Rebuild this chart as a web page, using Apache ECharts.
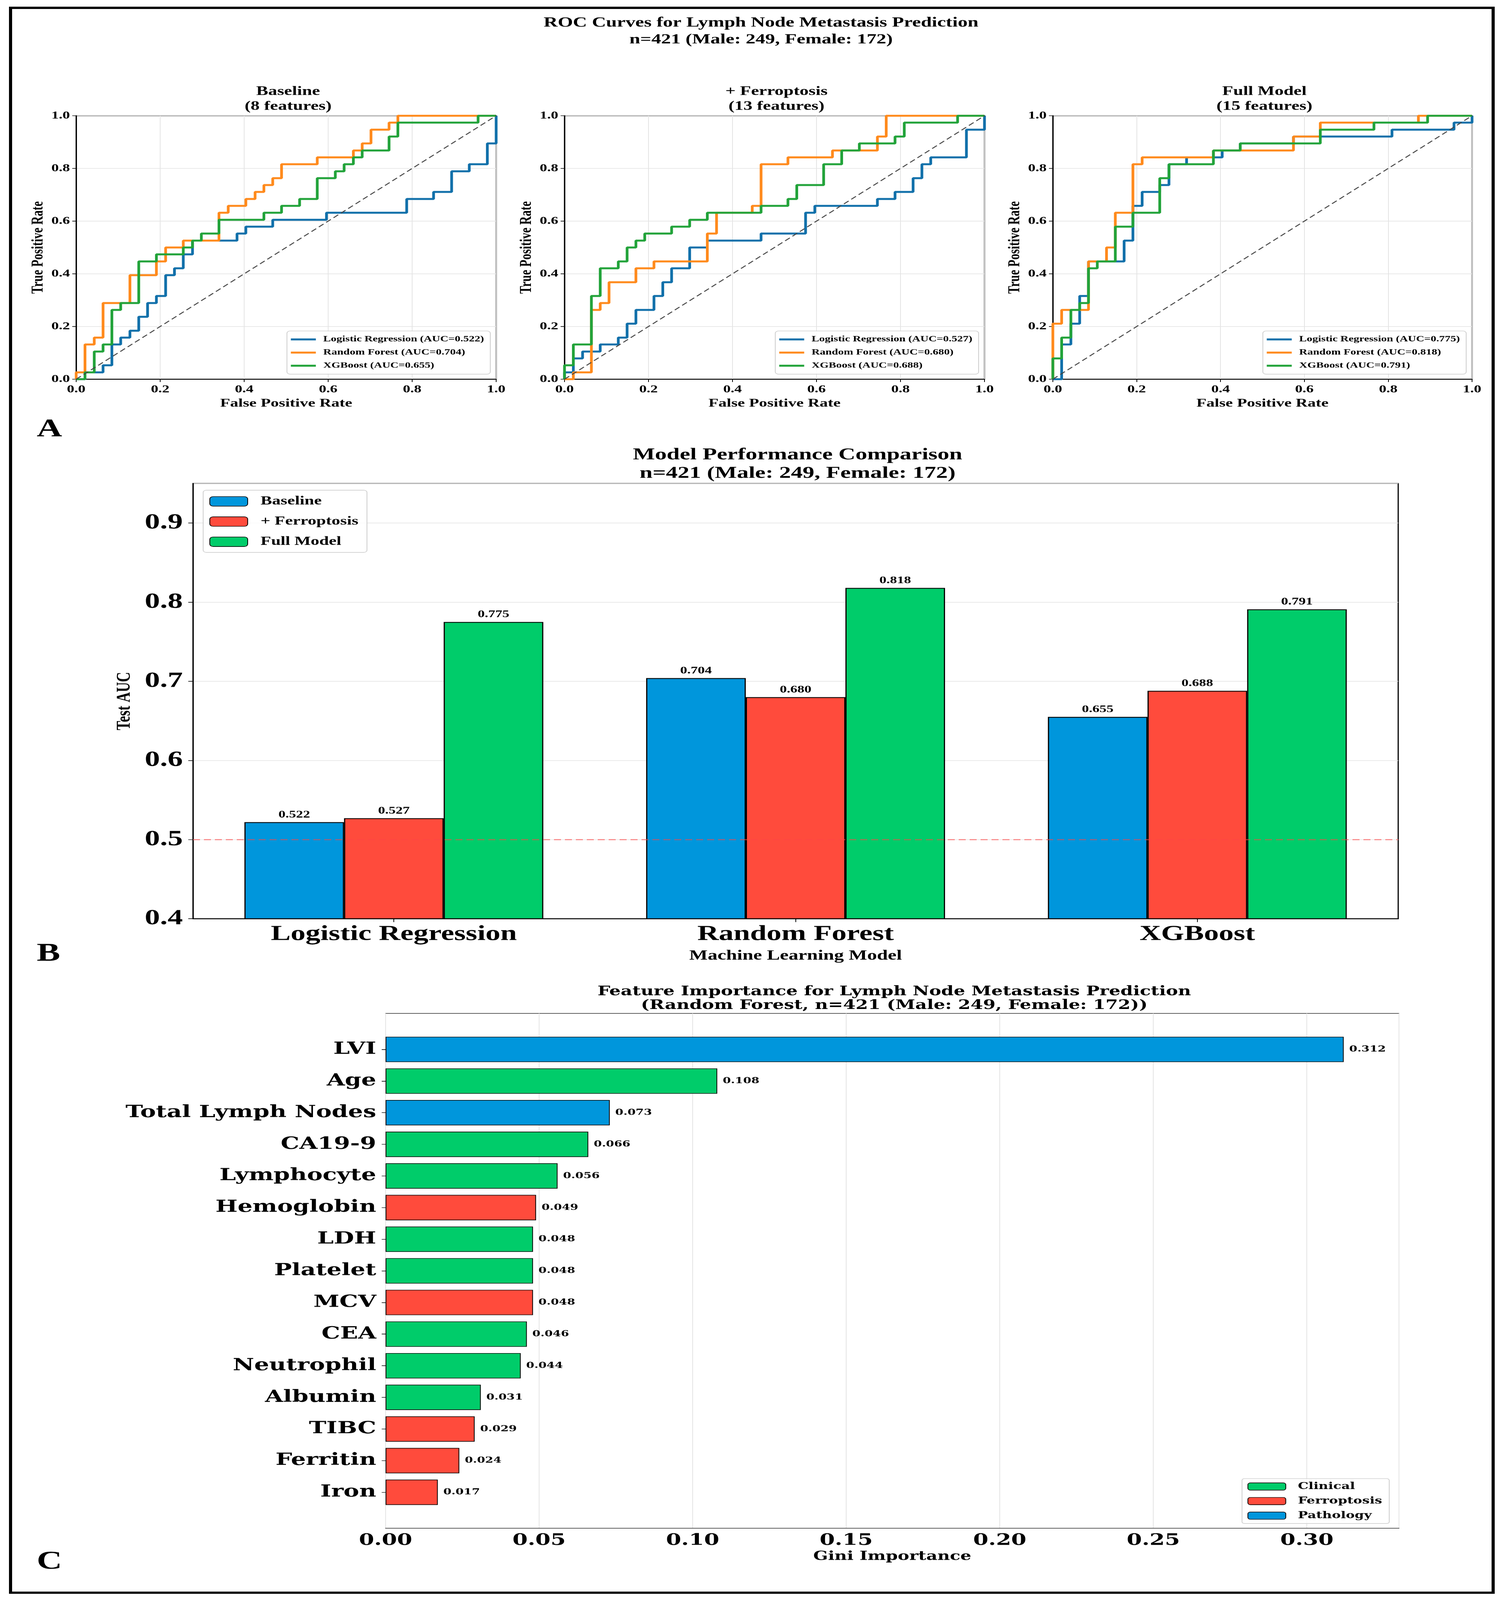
<!DOCTYPE html>
<html>
<head>
<meta charset="utf-8">
<title>Lymph Node Metastasis Prediction</title>
<script src="https://cdn.jsdelivr.net/npm/echarts@6/dist/echarts.min.js"></script>
<style>
html, body { margin: 0; padding: 0; background: #fff; overflow: hidden; }
#main { width: 3837px; height: 5709px; transform-origin: 0 0; }
</style>
</head>
<body>
<div id="main"></div>
<script>
const serif = 'Liberation Serif';
const wideSerif = 'DejaVu Serif';

const modelNames = ['Logistic Regression', 'Random Forest', 'XGBoost'];
const rocPanelTitles = ['Baseline\n(8 features)', '+ Ferroptosis\n(13 features)', 'Full Model\n(15 features)'];

// test AUC per feature set, in model order
const aucBaseline = [0.522, 0.704, 0.655];
const aucFerroptosis = [0.527, 0.680, 0.688];
const aucFull = [0.775, 0.818, 0.791];
const featureSets = ['Baseline', '+ Ferroptosis', 'Full Model'];
const chanceLevel = 0.5;
const chanceLine = [[0, 0], [1, 1]];

// ROC points [fpr, tpr]
const rocBaselineLR = [[0, 0], [0.021, 0.026], [0.064, 0.053], [0.085, 0.132], [0.106, 0.158], [0.128, 0.184], [0.149, 0.237], [0.170, 0.289], [0.191, 0.316], [0.213, 0.395], [0.234, 0.421], [0.255, 0.474], [0.277, 0.526], [0.383, 0.553], [0.404, 0.579], [0.468, 0.605], [0.596, 0.632], [0.787, 0.684], [0.851, 0.711], [0.894, 0.789], [0.936, 0.816], [0.979, 0.895], [1, 1]];
const rocBaselineRF = [[0, 0], [0, 0.026], [0.021, 0.132], [0.043, 0.158], [0.064, 0.289], [0.128, 0.395], [0.191, 0.447], [0.213, 0.5], [0.255, 0.526], [0.340, 0.632], [0.362, 0.658], [0.404, 0.684], [0.426, 0.711], [0.447, 0.737], [0.468, 0.763], [0.489, 0.816], [0.574, 0.842], [0.660, 0.868], [0.681, 0.895], [0.702, 0.947], [0.745, 0.974], [0.766, 1], [1, 1]];
const rocBaselineXGB = [[0, 0], [0.021, 0.026], [0.043, 0.105], [0.064, 0.132], [0.085, 0.263], [0.106, 0.289], [0.149, 0.447], [0.191, 0.474], [0.255, 0.5], [0.277, 0.526], [0.298, 0.553], [0.340, 0.605], [0.447, 0.632], [0.489, 0.658], [0.532, 0.684], [0.574, 0.763], [0.617, 0.789], [0.638, 0.816], [0.660, 0.842], [0.681, 0.868], [0.745, 0.921], [0.766, 0.974], [0.957, 1], [1, 1]];

const rocFerroLR = [[0, 0], [0, 0.026], [0.021, 0.079], [0.043, 0.105], [0.085, 0.132], [0.128, 0.158], [0.149, 0.211], [0.170, 0.263], [0.213, 0.316], [0.234, 0.368], [0.255, 0.421], [0.298, 0.5], [0.340, 0.526], [0.468, 0.553], [0.574, 0.632], [0.596, 0.658], [0.745, 0.684], [0.787, 0.711], [0.830, 0.763], [0.851, 0.816], [0.872, 0.842], [0.957, 0.947], [1, 1]];
const rocFerroRF = [[0, 0], [0.021, 0.026], [0.064, 0.263], [0.085, 0.289], [0.106, 0.368], [0.170, 0.421], [0.213, 0.447], [0.340, 0.553], [0.362, 0.632], [0.447, 0.658], [0.468, 0.816], [0.532, 0.842], [0.638, 0.868], [0.745, 0.921], [0.766, 1], [1, 1]];
const rocFerroXGB = [[0, 0], [0, 0.053], [0.021, 0.132], [0.064, 0.316], [0.085, 0.421], [0.128, 0.447], [0.149, 0.5], [0.170, 0.526], [0.191, 0.553], [0.255, 0.579], [0.298, 0.605], [0.340, 0.632], [0.468, 0.658], [0.532, 0.684], [0.553, 0.737], [0.617, 0.816], [0.660, 0.868], [0.702, 0.895], [0.787, 0.921], [0.809, 0.974], [0.936, 1], [1, 1]];

const rocFullLR = [[0, 0], [0.021, 0.132], [0.043, 0.211], [0.064, 0.316], [0.085, 0.447], [0.170, 0.526], [0.191, 0.658], [0.213, 0.711], [0.255, 0.737], [0.277, 0.816], [0.319, 0.842], [0.404, 0.868], [0.447, 0.895], [0.574, 0.921], [0.809, 0.947], [0.957, 0.974], [1, 1]];
const rocFullRF = [[0, 0], [0, 0.211], [0.021, 0.263], [0.085, 0.447], [0.128, 0.5], [0.149, 0.632], [0.191, 0.816], [0.213, 0.842], [0.383, 0.868], [0.574, 0.921], [0.638, 0.974], [0.872, 1], [1, 1]];
const rocFullXGB = [[0, 0], [0, 0.079], [0.021, 0.158], [0.043, 0.263], [0.064, 0.289], [0.085, 0.421], [0.106, 0.447], [0.149, 0.579], [0.191, 0.632], [0.255, 0.763], [0.277, 0.816], [0.383, 0.868], [0.447, 0.895], [0.638, 0.947], [0.766, 0.974], [0.894, 1], [1, 1]];

// Random forest feature importance
const featureNames = ['LVI', 'Age', 'Total Lymph Nodes', 'CA19-9', 'Lymphocyte', 'Hemoglobin', 'LDH', 'Platelet', 'MCV', 'CEA', 'Neutrophil', 'Albumin', 'TIBC', 'Ferritin', 'Iron'];
const featureImportance = [0.312, 0.108, 0.073, 0.066, 0.056, 0.049, 0.048, 0.048, 0.048, 0.046, 0.044, 0.031, 0.029, 0.024, 0.017];
const featureGroup = ['Pathology', 'Clinical', 'Pathology', 'Clinical', 'Clinical', 'Ferroptosis', 'Clinical', 'Clinical', 'Ferroptosis', 'Clinical', 'Clinical', 'Clinical', 'Ferroptosis', 'Ferroptosis', 'Ferroptosis'];
const groupNames = ['Clinical', 'Ferroptosis', 'Pathology'];

const rocColors = ['#1170aa', '#ff8a1c', '#22a33a'];
const setColors = ['#0096dc', '#ff4b3c', '#00cc6a'];
const groupColors = { Clinical: '#00cc6a', Ferroptosis: '#ff4b3c', Pathology: '#0096dc' };

const W = 3837, H = 5709;
const rocGrids = [
	{ left: 195, top: 413, width: 1075, height: 940 },
	{ left: 1445, top: 413, width: 1075, height: 940 },
	{ left: 2695, top: 413, width: 1073, height: 940 },
];
const barGrid = { left: 494, top: 1725, width: 3085, height: 1553 };
const impFrame = { left: 987, top: 3616, width: 2594, height: 1837 };
const impBars = { left: 987, top: 3688, width: 2594, height: 1693 };

const rocCurves = [
	[rocBaselineLR, rocBaselineRF, rocBaselineXGB],
	[rocFerroLR, rocFerroRF, rocFerroXGB],
	[rocFullLR, rocFullRF, rocFullXGB],
];
const aucByPanel = [aucBaseline, aucFerroptosis, aucFull];

function rocName(p, m) {
	return modelNames[m] + ' (AUC=' + aucByPanel[p][m].toFixed(3) + ')';
}

function txt(size, family) {
	return { fontFamily: family || serif, fontWeight: 'bold', fontSize: size, color: '#000' };
}

const gridLine = { show: true, lineStyle: { color: '#e4e4e4', width: 2 } };

// the window can come out shorter than the figure; squeeze it to fit
const el = document.getElementById('main');
const fit = Math.min(1, window.innerHeight / H);
if (fit < 1) el.style.transform = 'scaleY(' + fit + ')';

const chart = echarts.init(el, null, { renderer: 'canvas' });

const grids = [];
const xAxes = [];
const yAxes = [];
const legends = [];
const series = [];
const titles = [];

titles.push({
	text: 'ROC Curves for Lymph Node Metastasis Prediction\nn=421 (Male: 249, Female: 172)',
	left: 1943, top: 47, textAlign: 'center',
	textStyle: Object.assign(txt(50), { lineHeight: 60 }),
});

// panel A: three ROC plots
rocGrids.forEach((g, p) => {
	grids.push(Object.assign({ show: true, borderColor: '#000', borderWidth: 3, outerBoundsMode: 'none' }, g));
	titles.push({
		text: rocPanelTitles[p],
		left: g.left + g.width / 2, top: 296, textAlign: 'center',
		textStyle: Object.assign(txt(46), { lineHeight: 53 }),
	});
	const axisBase = {
		type: 'value', gridIndex: p, min: 0, max: 1, interval: 0.2,
		nameLocation: 'middle', nameTextStyle: txt(42),
		axisLine: { show: true, lineStyle: { color: '#000', width: 3 } },
		axisTick: { show: true, length: 10, lineStyle: { color: '#000', width: 2 } },
		splitLine: gridLine,
	};
	xAxes.push(Object.assign({}, axisBase, {
		name: 'False Positive Rate', nameGap: 66,
		axisLabel: Object.assign(txt(38), { margin: 18, formatter: (v) => v.toFixed(1) }),
	}));
	yAxes.push(Object.assign({}, axisBase, {
		name: 'True Positive Rate', nameGap: 76,
		axisLabel: Object.assign(txt(38), { margin: 16, formatter: (v) => v.toFixed(1) }),
	}));
	rocCurves[p].forEach((curve, m) => {
		series.push({
			name: rocName(p, m), type: 'line', step: 'end',
			xAxisIndex: p, yAxisIndex: p, data: curve,
			showSymbol: false, symbol: 'none', silent: true,
			lineStyle: { color: rocColors[m], width: 7 },
			itemStyle: { color: rocColors[m] },
			z: 3 + m,
		});
	});
	series.push({
		type: 'line', xAxisIndex: p, yAxisIndex: p, data: chanceLine,
		showSymbol: false, symbol: 'none', silent: true,
		lineStyle: { color: '#444', width: 3, type: [16, 9] }, z: 8,
	});
	legends.push({
		data: modelNames.map((n, m) => rocName(p, m)),
		orient: 'vertical',
		right: W - (g.left + g.width) + 15,
		bottom: H - (g.top + g.height) + 18,
		icon: 'rect', itemWidth: 64, itemHeight: 7, itemGap: 15,
		padding: [14, 16, 14, 10],
		backgroundColor: 'rgba(255,255,255,0.85)',
		borderColor: '#cccccc', borderWidth: 2, borderRadius: 8,
		selectedMode: false,
		textStyle: Object.assign(txt(29), { lineHeight: 32, padding: [0, 0, 0, 14] }),
	});
});

// panel B: grouped AUC bars
titles.push({
	text: 'Model Performance Comparison\nn=421 (Male: 249, Female: 172)',
	left: barGrid.left + barGrid.width / 2, top: 1585, textAlign: 'center',
	textStyle: Object.assign(txt(60), { lineHeight: 66 }),
});
grids.push(Object.assign({ show: true, borderColor: '#000', borderWidth: 3, outerBoundsMode: 'none' }, barGrid));
xAxes.push({
	type: 'category', gridIndex: 3, data: modelNames,
	name: 'Machine Learning Model', nameLocation: 'middle', nameGap: 108, nameTextStyle: txt(50),
	axisLine: { show: true, lineStyle: { color: '#000', width: 3 } },
	axisTick: { show: true, alignWithLabel: true, length: 12, lineStyle: { color: '#000', width: 2 } },
	axisLabel: Object.assign(txt(76), { margin: 18 }),
	splitLine: { show: false },
});
yAxes.push({
	type: 'value', gridIndex: 3, min: 0.4, max: 0.95, interval: 0.1,
	name: 'Test AUC', nameLocation: 'middle', nameGap: 150, nameTextStyle: txt(50),
	axisLine: { show: true, lineStyle: { color: '#000', width: 3 } },
	axisTick: { show: true, length: 12, lineStyle: { color: '#000', width: 2 } },
	axisLabel: Object.assign(txt(78), { margin: 26, showMaxLabel: false, formatter: (v) => v.toFixed(1) }),
	splitLine: gridLine,
});
[aucBaseline, aucFerroptosis, aucFull].forEach((vals, s) => {
	const ser = {
		name: featureSets[s], type: 'bar', xAxisIndex: 3, yAxisIndex: 3,
		data: vals, barWidth: '24.8%', barGap: '0%',
		itemStyle: { color: setColors[s], borderColor: '#000', borderWidth: 3 },
		label: Object.assign(txt(36), { show: true, position: 'top', distance: 8, formatter: (p) => p.value.toFixed(3) }),
		silent: true,
	};
	if (s === 0) {
		ser.markLine = {
			silent: true, symbol: 'none', label: { show: false },
			lineStyle: { type: [18, 10], color: 'rgba(255,70,70,0.55)', width: 4 },
			data: [{ yAxis: chanceLevel }],
		};
	}
	series.push(ser);
});
legends.push({
	data: featureSets, orient: 'vertical', left: 520, top: 1749,
	itemWidth: 97, itemHeight: 34, itemGap: 28,
	padding: [18, 22, 16, 16],
	backgroundColor: 'rgba(255,255,255,0.85)',
	borderColor: '#cccccc', borderWidth: 2, borderRadius: 8,
	selectedMode: false,
	textStyle: Object.assign(txt(44), { padding: [0, 0, 0, 28] }),
});

// panel C: feature importance (frame grid + inset bar grid)
titles.push({
	text: 'Feature Importance for Lymph Node Metastasis Prediction\n(Random Forest, n=421 (Male: 249, Female: 172))',
	left: impFrame.left + impFrame.width / 2, top: 3510, textAlign: 'center',
	textStyle: Object.assign(txt(46, wideSerif), { lineHeight: 49 }),
});
grids.push(Object.assign({ show: true, borderColor: '#111', borderWidth: 2, outerBoundsMode: 'none' }, impFrame));
grids.push(Object.assign({ show: false, outerBoundsMode: 'none' }, impBars));
xAxes.push({
	type: 'value', gridIndex: 4, min: 0, max: 0.33, interval: 0.05,
	name: 'Gini Importance', nameLocation: 'middle', nameGap: 80, nameTextStyle: txt(44, wideSerif),
	axisLine: { show: true, lineStyle: { color: '#111', width: 2 } },
	axisTick: { show: false },
	axisLabel: Object.assign(txt(56, wideSerif), { margin: 16, showMaxLabel: false, formatter: (v) => v.toFixed(2) }),
	splitLine: gridLine,
});
yAxes.push({ type: 'value', gridIndex: 4, min: 0, max: 1, show: false });
xAxes.push({ type: 'value', gridIndex: 5, min: 0, max: 0.33, show: false });
yAxes.push({
	type: 'category', gridIndex: 5, data: featureNames, inverse: true,
	axisLine: { show: false },
	axisTick: { show: true, alignWithLabel: true, length: 10, lineStyle: { color: '#000', width: 2 } },
	axisLabel: Object.assign(txt(60, wideSerif), { margin: 24 }),
	splitLine: { show: false },
});
groupNames.forEach((g) => {
	series.push({
		name: g, type: 'bar', xAxisIndex: 5, yAxisIndex: 5, stack: 'importance',
		data: featureImportance.map((v, i) => (featureGroup[i] === g ? v : '-')),
		barWidth: '80%', silent: true,
		itemStyle: { color: groupColors[g], borderColor: '#000', borderWidth: 2 },
		label: Object.assign(txt(30, wideSerif), { show: true, position: 'right', distance: 14, formatter: (p) => p.value.toFixed(3) }),
	});
});
legends.push({
	data: groupNames, orient: 'vertical',
	right: W - 3556, bottom: H - 5436,
	itemWidth: 97, itemHeight: 26, itemGap: 16,
	padding: [10, 18, 10, 14],
	backgroundColor: 'rgba(255,255,255,0.85)',
	borderColor: '#cccccc', borderWidth: 2, borderRadius: 6,
	selectedMode: false,
	textStyle: Object.assign(txt(34, wideSerif), { lineHeight: 36, padding: [0, 0, 0, 26] }),
});

// panel letters
[['A', 1484], ['B', 3355], ['C', 5524]].forEach(([t, y]) => {
	titles.push({ text: t, left: 89, top: y, textStyle: txt(90) });
});

chart.setOption({
	backgroundColor: '#fff',
	animation: false,
	title: titles,
	grid: grids,
	xAxis: xAxes,
	yAxis: yAxes,
	legend: legends,
	series: series,
	graphic: [{
		type: 'rect', silent: true,
		shape: { x: 27, y: 28, width: 3795, height: 5655 },
		style: { fill: 'none', stroke: '#000', lineWidth: 8 },
	}],
});
</script>
</body>
</html>
